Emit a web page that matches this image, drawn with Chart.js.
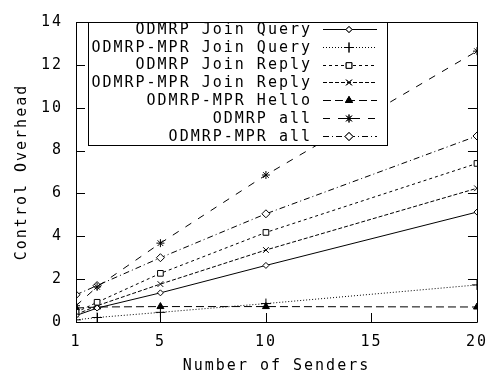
<!DOCTYPE html>
<html>
<head>
<meta charset="utf-8">
<script src="https://cdn.jsdelivr.net/npm/chart.js@4/dist/chart.umd.min.js"></script>
<style>
  html, body { margin: 0; padding: 0; background: #fff; }
  #wrap { width: 499px; height: 376px; }
</style>
</head>
<body>
<div id="wrap"><canvas id="myChart"></canvas></div>
<script>
// number of senders
const senders = [1, 2, 5, 10, 20];
const xTicks = [1, 2, 5, 10, 15, 20];
const xTickLabels = ["1", "", "5", "10", "15", "20"];
const yTicks = [0, 2, 4, 6, 8, 10, 12, 14];

// series values
const odmrpJoinQuery = [0.30, 0.65, 1.36, 2.64, 5.13];
const mprJoinQuery = [0.10, 0.21, 0.45, 0.86, 1.73];
const odmrpJoinReply = [0.45, 0.92, 2.27, 4.18, 7.40];
const mprJoinReply = [0.35, 0.76, 1.77, 3.36, 6.24];
const mprHello = [0.65, 0.70, 0.72, 0.72, 0.70];
const odmrpAll = [0.76, 1.64, 3.68, 6.86, 12.64];
const mprAll = [1.27, 1.70, 3.00, 5.05, 8.68];

const FONT = "'DejaVu Sans Mono', monospace";
const SPACING = "2px";

function pts(vals) {
	return vals.map((v, i) => ({ x: senders[i], y: v }));
}

function ds(label, vals, dash, style, radius, fill) {
	return {
		label: label,
		data: pts(vals),
		borderColor: "#000",
		borderWidth: 1,
		borderDash: dash,
		pointStyle: style,
		pointRadius: radius,
		pointBorderColor: "#000",
		pointBorderWidth: 1,
		pointBackgroundColor: fill,
		tension: 0,
		fill: false,
	};
}

const datasets = [
	ds("ODMRP Join Query", odmrpJoinQuery, [], "rectRot", 3, "#fff"),
	ds("ODMRP-MPR Join Query", mprJoinQuery, [1, 2], "cross", 5, "#000"),
	ds("ODMRP Join Reply", odmrpJoinReply, [3, 3], "rect", 4, "#fff"),
	ds("ODMRP-MPR Join Reply", mprJoinReply, [4, 2], "crossRot", 4, "#000"),
	ds("ODMRP-MPR Hello", mprHello, [8, 4], "triangle", 4, "#000"),
	ds("ODMRP all", odmrpAll, [7, 8], "star", 4, "#000"),
	ds("ODMRP-MPR all", mprAll, [6, 3, 1, 3], "rectRot", 4, "#fff"),
];

// gnuplot style frame, inward ticks and the key box
const gnuFrame = {
	id: "gnuFrame",
	beforeUpdate(chart) { chart.ctx.letterSpacing = SPACING; },
	beforeDraw(chart) { chart.ctx.letterSpacing = SPACING; },
	afterDatasetsDraw(chart) {
		const ctx = chart.ctx;
		const a = chart.chartArea;
		const xs = chart.scales.x, ys = chart.scales.y;
		const tl = 9;
		ctx.save();
		ctx.strokeStyle = "#000";
		ctx.lineWidth = 1;
		ctx.setLineDash([]);
		ctx.beginPath();
		ctx.rect(Math.round(a.left) + 0.5, Math.round(a.top) + 0.5,
			Math.round(a.right - a.left), Math.round(a.bottom - a.top));
		yTicks.forEach((v) => {
			const y = Math.round(ys.getPixelForValue(v)) + 0.5;
			ctx.moveTo(a.left, y); ctx.lineTo(a.left + tl, y);
			ctx.moveTo(a.right, y); ctx.lineTo(a.right - tl, y);
		});
		xTicks.forEach((v) => {
			const x = Math.round(xs.getPixelForValue(v)) + 0.5;
			ctx.moveTo(x, a.bottom); ctx.lineTo(x, a.bottom - tl);
			ctx.moveTo(x, a.top); ctx.lineTo(x, a.top + tl);
		});
		ctx.stroke();

		// key
		const box = { l: 88, t: 22, r: 387, b: 145 };
		ctx.fillStyle = "#fff";
		ctx.fillRect(box.l, box.t, box.r - box.l, box.b - box.t);
		ctx.strokeRect(box.l + 0.5, box.t + 0.5, box.r - box.l, box.b - box.t);
		ctx.font = "15px " + FONT;
		ctx.letterSpacing = SPACING;
		ctx.textAlign = "right";
		ctx.textBaseline = "middle";
		ctx.fillStyle = "#000";
		chart.data.datasets.forEach((d, i) => {
			const y = 29 + i * 17.8;
			ctx.fillText(d.label, 312, y + 1);
			const yy = Math.round(y) + 0.5;
			ctx.setLineDash(d.borderDash);
			ctx.beginPath();
			ctx.moveTo(323, yy); ctx.lineTo(377, yy);
			ctx.stroke();
			ctx.setLineDash([]);
			Chart.helpers.drawPoint(ctx, {
				pointStyle: d.pointStyle, radius: d.pointRadius,
				borderWidth: 1, rotation: 0,
			}, 349, yy);
			ctx.fillStyle = d.pointBackgroundColor;
			ctx.fill();
			ctx.stroke();
			ctx.fillStyle = "#000";
		});
		ctx.restore();
	},
};

const ctx = document.getElementById("myChart");
new Chart(ctx, {
	type: "line",
	data: { datasets: datasets },
	plugins: [gnuFrame],
	options: {
		responsive: true,
		maintainAspectRatio: false,
		animation: false,
		layout: { padding: { top: 13, right: 12, left: 0, bottom: 0 } },
		plugins: { legend: { display: false }, tooltip: { enabled: false } },
		scales: {
			x: {
				type: "linear",
				min: 1,
				max: 20,
				afterBuildTicks: (s) => { s.ticks = xTicks.map((v) => ({ value: v })); },
				afterFit: (s) => { s.height = 54; },
				grid: { display: false, drawTicks: false },
				border: { display: false },
				ticks: {
					color: "#000",
					font: { family: FONT, size: 15 },
					padding: 11,
					maxRotation: 0,
					autoSkip: false,
					callback: (v) => xTickLabels[xTicks.indexOf(v)],
				},
				title: {
					display: true,
					text: "Number of Senders",
					color: "#000",
					font: { family: FONT, size: 15 },
					padding: { top: 0, bottom: 1 },
				},
			},
			y: {
				min: 0,
				max: 14,
				afterBuildTicks: (s) => { s.ticks = yTicks.map((v) => ({ value: v })); },
				afterFit: (s) => { s.width = 76; },
				grid: { display: false, drawTicks: false },
				border: { display: false },
				ticks: {
					color: "#000",
					font: { family: FONT, size: 15 },
					padding: 13,
				},
				title: {
					display: true,
					text: "Control Overhead",
					color: "#000",
					font: { family: FONT, size: 15 },
					padding: { top: 13, bottom: 0 },
				},
			},
		},
	},
});
</script>
</body>
</html>
